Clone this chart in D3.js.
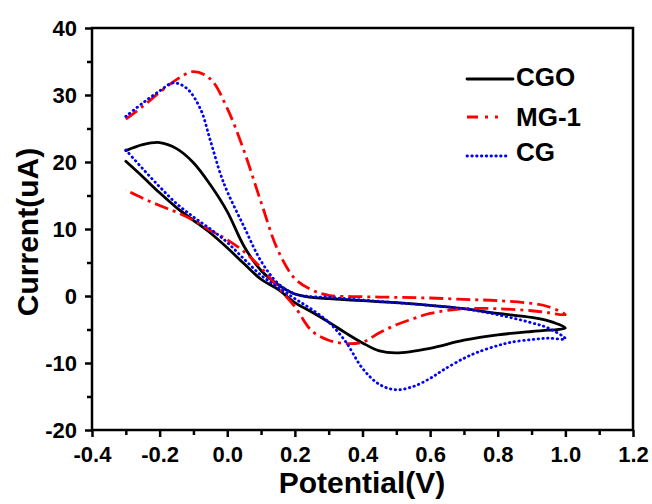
<!DOCTYPE html>
<html>
<head>
  <meta charset="utf-8">
  <script src="https://d3js.org/d3.v7.min.js"></script>
  <style>
    html, body {
      margin: 0px;
      padding: 0px;
      background: #fff;
      font-family: "Liberation Sans", Arial, sans-serif;
    }
    .axis text {
      font-size: 22px;
      font-weight: bold;
      fill: #000;
    }
    .axis line {
      stroke: #000;
      stroke-width: 2.5;
    }
    .axisLabel {
      font-size: 30px;
      font-weight: bold;
    }
    .legend text {
      font-size: 26px;
      font-weight: bold;
    }
  </style>
</head>
<body>
  <div id="chart"></div>
  <script>

    const width = 652;
    const height = 504;
    const margin = {top: 28, left: 92, right: 19, bottom: 74};

    // tick values
    const potentialTicks = [-0.4, -0.2, 0.0, 0.2, 0.4, 0.6, 0.8, 1.0, 1.2];
    const potentialMinor = [-0.3, -0.1, 0.1, 0.3, 0.5, 0.7, 0.9, 1.1];
    const currentTicks = [-20, -10, 0, 10, 20, 30, 40];
    const currentMinor = [-15, -5, 5, 15, 25, 35];

    const seriesNames = ["CGO", "MG-1", "CG"];

    // CGO: forward scan then return scan
    const cgoPotential = [-0.3, -0.25, -0.2, -0.15, -0.1, -0.05, 0, 0.05, 0.1, 0.15, 0.2, 0.25, 0.3, 0.4, 0.5, 0.6, 0.7, 0.8, 0.9, 0.95, 1.0,
      0.95, 0.9, 0.8, 0.7, 0.6, 0.5, 0.45, 0.4, 0.35, 0.3, 0.25, 0.2, 0.15, 0.1, 0.05, 0, -0.05, -0.1, -0.15, -0.2, -0.25, -0.3];
    const cgoCurrent = [21.7, 22.6, 22.9, 22.0, 19.9, 16.6, 12.6, 7.4, 3.8, 1.7, 0.3, -0.2, -0.4, -0.7, -1.0, -1.4, -1.9, -2.6, -3.2, -3.7, -4.8,
      -5.1, -5.3, -5.8, -6.6, -7.8, -8.5, -8.2, -7.0, -5.5, -3.9, -2.4, -1.0, 1.0, 2.5, 4.8, 7.2, 9.4, 11.3, 13.2, 15.4, 17.8, 20.1];

    // MG-1
    const mgPotential = [-0.3, -0.25, -0.2, -0.15, -0.1, -0.05, 0, 0.05, 0.1, 0.15, 0.2, 0.25, 0.3, 0.4, 0.5, 0.6, 0.7, 0.8, 0.9, 0.95, 1.0,
      0.95, 0.9, 0.8, 0.7, 0.6, 0.55, 0.5, 0.45, 0.4, 0.35, 0.3, 0.25, 0.2, 0.15, 0.1, 0.05, 0, -0.05, -0.1, -0.15, -0.2, -0.25, -0.3];
    const mgCurrent = [26.4, 28.3, 30.4, 32.3, 33.5, 32.4, 28.0, 21.6, 14.0, 6.8, 2.6, 0.9, 0.1, -0.1, -0.2, -0.3, -0.5, -0.7, -1.1, -1.6, -2.8,
      -2.5, -2.2, -1.9, -1.9, -2.6, -3.4, -4.3, -5.5, -6.9, -7.1, -6.6, -5.2, -1.6, 1.3, 4.2, 6.6, 8.4, 9.8, 11.3, 12.5, 13.5, 14.6, 15.8];

    // CG
    const cgPotential = [-0.3, -0.25, -0.2, -0.16, -0.12, -0.08, -0.05, -0.02, 0, 0.05, 0.1, 0.15, 0.2, 0.25, 0.3, 0.4, 0.5, 0.6, 0.7, 0.8, 0.9, 0.95, 1.0,
      0.95, 0.9, 0.84, 0.8, 0.74, 0.7, 0.64, 0.6, 0.55, 0.5, 0.45, 0.4, 0.35, 0.3, 0.25, 0.2, 0.15, 0.1, 0.05, 0, -0.05, -0.1, -0.15, -0.2, -0.25, -0.3];
    const cgCurrent = [26.8, 28.8, 30.6, 31.8, 31.0, 28.0, 23.2, 18.2, 15.6, 10.3, 5.2, 1.9, 0.3, -0.1, -0.2, -0.6, -1.0, -1.4, -1.9, -2.8, -4.0, -4.8, -6.4,
      -6.3, -6.5, -6.9, -7.4, -8.4, -9.3, -11.0, -12.3, -13.5, -14.0, -13.2, -10.8, -6.8, -3.9, -2.0, -0.4, 1.3, 3.1, 5.5, 8.0, 10.0, 11.8, 13.8, 16.3, 19.0, 21.8];

    const series = [
      {name: seriesNames[0], v: cgoPotential, i: cgoCurrent, color: "#000000", dash: null, keyDash: null, cap: "round"},
      {name: seriesNames[1], v: mgPotential, i: mgCurrent, color: "#ff0000", dash: "14,5,3,5", keyDash: "11,7,3,7,3,30", cap: "butt"},
      {name: seriesNames[2], v: cgPotential, i: cgCurrent, color: "#0000ff", dash: "0.5,4.3", keyDash: "0.5,4.3", cap: "round"}
    ];

    const svg = d3.select("#chart")
      .append("svg")
      .attr("width", width)
      .attr("height", height);

    const xScale = d3.scaleLinear()
      .domain([-0.4, 1.2])
      .range([margin.left, width - margin.right]);

    const yScale = d3.scaleLinear()
      .domain([-20, 40])
      .range([height - margin.bottom, margin.top]);

    // minor ticks
    svg.append("g")
      .attr("class", "axis")
      .attr("transform", `translate(0,${height - margin.bottom})`)
      .call(d3.axisBottom(xScale).tickValues(potentialMinor).tickSize(5).tickFormat(""))
      .call(g => g.select(".domain").remove());

    svg.append("g")
      .attr("class", "axis")
      .attr("transform", `translate(${margin.left},0)`)
      .call(d3.axisLeft(yScale).tickValues(currentMinor).tickSize(5).tickFormat(""))
      .call(g => g.select(".domain").remove());

    // major ticks (plain hyphen for negatives, like the original)
    svg.append("g")
      .attr("class", "axis")
      .attr("transform", `translate(0,${height - margin.bottom})`)
      .call(d3.axisBottom(xScale).tickValues(potentialTicks).tickSize(7).tickPadding(9).tickFormat(d => d.toFixed(1)))
      .call(g => g.select(".domain").remove());

    svg.append("g")
      .attr("class", "axis")
      .attr("transform", `translate(${margin.left},0)`)
      .call(d3.axisLeft(yScale).tickValues(currentTicks).tickSize(7).tickPadding(8).tickFormat(d => String(d)))
      .call(g => g.select(".domain").remove());

    // frame
    svg.append("rect")
      .attr("x", margin.left)
      .attr("y", margin.top)
      .attr("width", width - margin.left - margin.right)
      .attr("height", height - margin.top - margin.bottom)
      .attr("fill", "none")
      .attr("stroke", "#000")
      .attr("stroke-width", 2.5);

    const line = d3.line()
      .x(d => xScale(d[0]))
      .y(d => yScale(d[1]))
      .curve(d3.curveCatmullRom.alpha(0.5));

    svg.selectAll(".cv")
      .data(series)
      .enter()
      .append("path")
        .attr("class", "cv")
        .attr("d", s => line(s.v.map((v, k) => [v, s.i[k]])))
        .attr("fill", "none")
        .attr("stroke", s => s.color)
        .attr("stroke-width", 2.8)
        .attr("stroke-linecap", s => s.cap)
        .attr("stroke-dasharray", s => s.dash);

    // legend
    const legend = svg.append("g").attr("class", "legend");
    const legendY = [79, 117, 156];
    const legendBase = [86, 126, 161];

    series.forEach((s, k) => {
      legend.append("line")
        .attr("x1", 467)
        .attr("x2", k === 2 ? 510 : 513)
        .attr("y1", legendY[k])
        .attr("y2", legendY[k])
        .attr("stroke", s.color)
        .attr("stroke-width", 2.8)
        .attr("stroke-linecap", s.cap)
        .attr("stroke-dasharray", s.keyDash);
      legend.append("text")
        .attr("x", 516)
        .attr("y", legendBase[k])
        .text(s.name);
    });

    // axis labels
    svg.append("text")
      .attr("class", "axisLabel")
      .attr("x", 362)
      .attr("y", 493)
      .attr("text-anchor", "middle")
      .text("Potential(V)");

    svg.append("text")
      .attr("class", "axisLabel")
      .attr("x", -232)
      .attr("y", 38)
      .attr("text-anchor", "middle")
      .attr("transform", "rotate(-90)")
      .text("Current(uA)");

  </script>
</body>
</html>
